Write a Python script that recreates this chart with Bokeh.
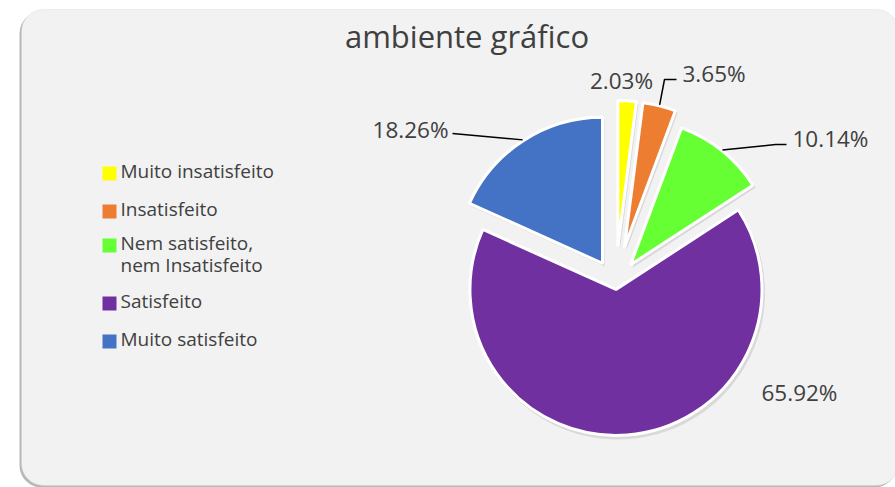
import math
from bokeh.plotting import figure
from bokeh.models import Range1d, BoxAnnotation
from bokeh.embed import file_html
from bokeh.resources import INLINE
from bokeh.core.properties import value

# ---------------- data ----------------
title_text = "ambiente gráfico"
categories = ["Muito insatisfeito", "Insatisfeito", "Nem satisfeito, nem Insatisfeito",
              "Satisfeito", "Muito satisfeito"]
percentages = [2.03, 3.65, 10.14, 65.92, 18.26]
colors = ["#FFFF00", "#ED7D31", "#66FF33", "#7030A0", "#4472C4"]

# ---------------- layout ----------------
W, H = 895, 487
FONT = "Open Sans"
TXT = "#404040"
BASE_FIX = 10  # renderer places alphabetic baseline ~10px low


def px(X):
    return X


def py(Y):
    return H - Y


def pyt(Y):
    return H - (Y - BASE_FIX)


CX, CY = px(615), py(283)
R = 146
explode = [37, 37, 24, 6, 24]
# label anchor x, baseline y (page px), alignment, leader elbow points (page px)
label_layout = [
    (621, 90, "center", None),
    (682, 83, "left", [(664, 79), (676, 79)]),
    (792, 148, "left", [(775, 144), (786, 144)]),
    (761, 402, "left", None),
    (448, 138.5, "right", [(452, 133)]),
]
legend_y = [173, 211, 245, 303, 341]
legend_x = 109

p = figure(width=W, height=H, output_backend="svg", toolbar_location=None,
           x_range=Range1d(0, W), y_range=Range1d(0, H), min_border=0)
p.axis.visible = False
p.grid.visible = False
p.outline_line_color = None
p.background_fill_color = "white"
p.border_fill_color = "white"

# panel with shadow
p.add_layout(BoxAnnotation(left=px(19), right=px(896), top=py(11), bottom=py(487),
                           fill_color="#b8b8b8", fill_alpha=1, line_color=None,
                           border_radius=22, level="underlay"))
p.add_layout(BoxAnnotation(left=px(21), right=px(898), top=py(9), bottom=py(485),
                           fill_color="#F2F2F2", fill_alpha=1, line_color="#d0d0d0",
                           line_width=1, border_radius=22, level="underlay"))

# title
p.text(x=[px(466.5)], y=[pyt(45.7)], text=[title_text], text_font=value(FONT),
       text_font_size="31px", text_color=TXT, text_align="center",
       text_baseline="alphabetic")

# pie
total = sum(percentages)
cum = 0.0
centers = []
for i, v in enumerate(percentages):
    t1 = 360.0 * cum / total
    cum += v
    t2 = 360.0 * cum / total
    tm = math.radians((t1 + t2) / 2)
    d = explode[i]
    sx = CX + d * math.sin(tm)
    sy = CY + d * math.cos(tm)
    centers.append((sx, sy, tm, t1, t2))
    # soft shadow
    p.wedge(x=[sx + 2], y=[sy - 3], radius=R + 1, start_angle=[math.radians(90 - t2)],
            end_angle=[math.radians(90 - t1)], direction="anticlock",
            fill_color="#7f7f7f", fill_alpha=0.22, line_color=None)
for i, v in enumerate(percentages):
    sx, sy, tm, t1, t2 = centers[i]
    p.wedge(x=[sx], y=[sy], radius=R, start_angle=[math.radians(90 - t2)],
            end_angle=[math.radians(90 - t1)], direction="anticlock",
            fill_color=colors[i], line_color="white", line_width=3)

# data labels + leader lines
for i, v in enumerate(percentages):
    sx, sy, tm, t1, t2 = centers[i]
    lx, ly, align, elbows = label_layout[i]
    if elbows:
        xs = [sx + (R + 1) * math.sin(tm)] + [px(e[0]) for e in elbows]
        ys = [sy + (R + 1) * math.cos(tm)] + [py(e[1]) for e in elbows]
        p.line(xs, ys, line_color="black", line_width=1.5)
    p.text(x=[px(lx)], y=[pyt(ly)], text=[f"{v:.2f}%"], text_font=value(FONT),
           text_font_size="22.5px", text_color=TXT, text_align=align,
           text_baseline="alphabetic")

# legend
for i, cat in enumerate(categories):
    yy = legend_y[i]
    p.rect(x=[px(legend_x)], y=[py(yy)], width=14, height=14, fill_color=colors[i],
           line_color=None)
    lines = cat.split(", ")
    if len(lines) > 1:
        lines = [lines[0] + ","] + lines[1:]
    for j, ln in enumerate(lines):
        p.text(x=[px(120)], y=[pyt(yy + 7 + 22 * j)], text=[ln], text_font=value(FONT),
               text_font_size="19px", text_color=TXT, text_align="left",
               text_baseline="alphabetic")

open("out.html", "w").write(file_html(p, INLINE))
